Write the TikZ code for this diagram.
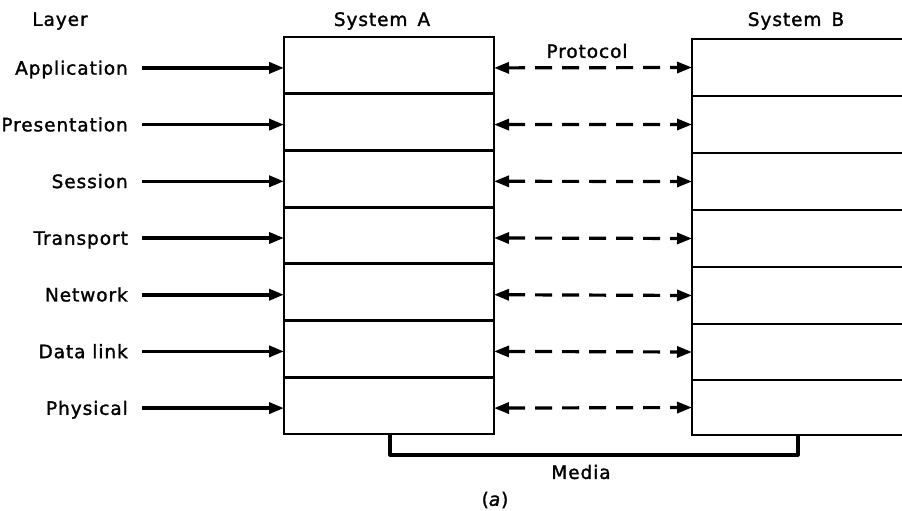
\documentclass[tikz,border=0pt]{standalone}
\usepackage{fontspec}
\setmainfont{DejaVu Sans}[LetterSpace=5, FakeBold=1.5]
\usetikzlibrary{arrows.meta}
\begin{document}
\begin{tikzpicture}[x=1pt,y=-1pt,
  txt/.style={font=\fontsize{18.5}{20}\selectfont, inner sep=0pt},
  lbl/.style={txt, text height=13.5pt, text depth=0pt, anchor=east},
  layerbox/.style={draw, line width=2.8pt, inner sep=0pt, outer sep=0pt,
    anchor=north west, minimum width=#1},
  solidarr/.style={line width=3.6pt, -{Triangle[length=15pt,width=11pt]}},
  protoarr/.style={line width=3.2pt, dash pattern=on 17pt off 10pt,
    {Triangle[length=15pt,width=11pt]}-{Triangle[length=15pt,width=11pt]}},
  bracket/.style={line width=3.2pt, line join=round}
]
\useasboundingbox (0,0) rectangle (902,511);
\clip (0,0) rectangle (902,511);

% column headings
\node[txt] (hlayer) at (60,21) {Layer};
\node[txt] (hsysa) at (382,21) {System\hspace{10pt}A};
\node[txt] (hsysb) at (796,21) {System\hspace{10pt}B};
\node[txt] (proto) at (587,51) {Protocol};

% stack of System A
\foreach \i/\t in {1/37,2/93.7,3/150.4,4/207.1,5/263.8,6/320.5,7/377.2}
  \node[layerbox=210pt, minimum height=56.8pt] (a\i) at (284,\t) {};

% stack of System B (runs off the right edge)
\foreach \i/\t/\h in {1/39/57,2/96/57,3/153/57,4/210/57,5/267/57,6/324/56,7/380/55}
  \node[layerbox=270pt, minimum height=\h pt] (b\i) at (692,\t) {};

% layer names with their arrows, and the peer protocol arrows
\foreach \i/\name in {1/Application,2/Presentation,3/Session,4/Transport,
                      5/Network,6/Data link,7/Physical}{
  \node[lbl] (l\i) at ([xshift=-156pt,yshift=-2.5pt]a\i.west) {\name};
  \draw[solidarr] ([xshift=14pt]l\i.east) -- ([yshift=-2.5pt]a\i.west);
  \draw[protoarr] ([yshift=-2.5pt]a\i.east) -- (b\i.west);
}

% physical medium joining the two systems
\coordinate (mlow) at (590,455);
\draw[bracket] ([xshift=106pt]a7.south west) |- (mlow) -| ([xshift=106pt]b7.south west);
\node[txt] (media) at (581,472) {Media};
\node[txt] (cap) at (495,500) {(\textit{a})};
\end{tikzpicture}
\end{document}
